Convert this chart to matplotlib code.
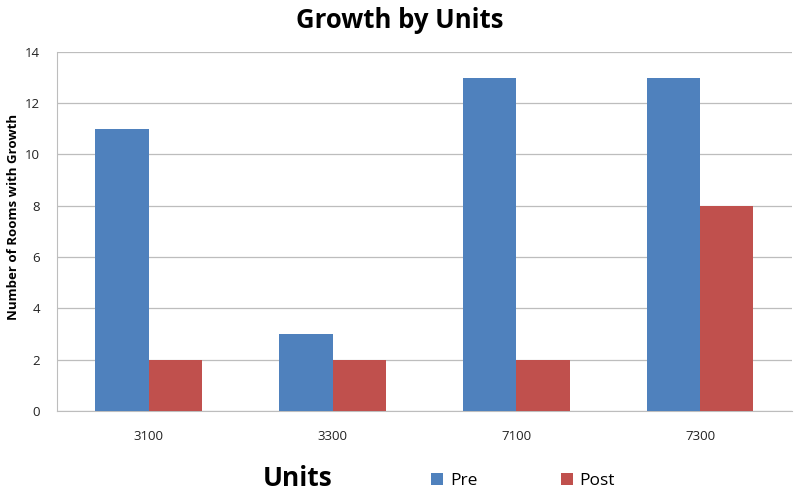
import numpy as np
import matplotlib.pyplot as plt

# data
units = ['3100', '3300', '7100', '7300']
pre = [11, 3, 13, 13]
post = [2, 2, 2, 8]

plt.rcParams['font.family'] = ['Open Sans', 'DejaVu Sans']

fig = plt.figure(figsize=(8, 4.94), dpi=100)
ax = fig.add_axes([0.071, 0.168, 0.919, 0.727])

x = np.arange(len(units))
w = 0.29
ax.bar(x - w / 2, pre, w, color='#4F81BD', label='Pre', zorder=3)
ax.bar(x + w / 2, post, w, color='#C0504D', label='Post', zorder=3)

ax.set_xlim(-0.5, len(units) - 0.5)
ax.set_ylim(0, 14)
ax.set_yticks(range(0, 15, 2))
ax.set_xticks(x)
ax.set_xticklabels(units)
ax.tick_params(axis='both', length=0, labelsize=9.5, colors='#222222')
ax.tick_params(axis='x', pad=14)
ax.tick_params(axis='y', pad=12)
ax.grid(axis='y', color='#BDBDBD', linewidth=0.9, zorder=0)

for s in ['top', 'right']:
    ax.spines[s].set_visible(False)
ax.spines['left'].set_color('#BDBDBD')
ax.spines['bottom'].set_color('#BDBDBD')

ax.set_ylabel('Number of Rooms with Growth', fontsize=9.5, fontweight='bold')
ax.yaxis.set_label_coords(-0.05, 0.54)
fig.text(0.5, 0.958, 'Growth by Units', ha='center', va='center', fontsize=18.5, fontweight='bold')
fig.text(0.372, 0.032, 'Units', ha='center', va='center', fontsize=19, fontweight='bold')

ax.legend(loc='center', bbox_to_anchor=(0.634, -0.195), ncol=2, frameon=False,
          fontsize=12.5, handlelength=0.7, handleheight=0.7, columnspacing=4.8, handletextpad=0.4)

fig.savefig('out.png', dpi=100)
